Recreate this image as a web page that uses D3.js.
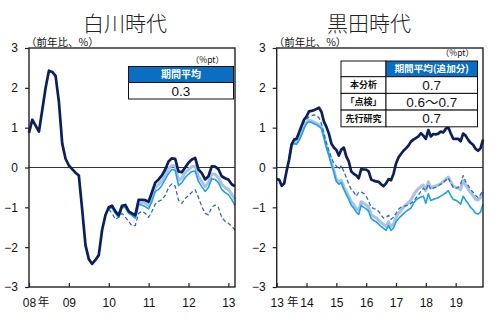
<!DOCTYPE html>
<html>
<head>
<meta charset="utf-8">
<script src="https://cdn.jsdelivr.net/npm/d3@7"></script>
<style>
  html, body { margin: 0; padding: 0; background: #fff; }
  svg { display: block; }
  text { font-family: "Liberation Sans", Arial, "Noto Sans CJK JP", sans-serif; }
  .jp { font-family: "Noto Sans CJK JP", "Noto Sans CJK SC", sans-serif; }
</style>
</head>
<body>
<svg id="chart" width="500" height="335"></svg>
<script>
// ---- data (monthly, year-on-year %) ----
const shirakawaYears = ["08", "09", "10", "11", "12", "13"];
const kurodaYears = ["13", "14", "15", "16", "17", "18", "19"];
const yTicks = [-3, -2, -1, 0, 1, 2, 3];

// Jan 2008 – Mar 2013
const shirakawaMain = [
  0.87, 1.2, 1.05, 0.9, 1.45, 2.0, 2.43, 2.4, 2.3, 1.65, 0.6, 0.22,
  0.05, -0.04, -0.13, -0.2, -1.05, -1.95, -2.3, -2.42, -2.32, -2.2, -1.57, -1.2,
  -1.0, -0.96, -1.1, -1.2, -0.96, -0.94, -1.1, -1.15, -1.2, -0.81, -0.81, -0.82,
  -0.86, -0.62, -0.38, -0.3, -0.2, -0.05, 0.15, 0.23, 0.22, -0.1, -0.12, 0.0,
  0.12, 0.2, 0.24, -0.05, -0.14, -0.3, -0.22, 0.03, 0.02, -0.04, -0.22, -0.27,
  -0.3, -0.42, -0.47
];
const shirakawaStart = 24; // adjusted series begin Jan 2010
const shirakawaLight = [
  -1.02, -0.98, -1.12, -1.2, -0.97, -0.97, -1.12, -1.17, -1.24, -0.86, -0.88, -0.9,
  -0.95, -0.75, -0.5, -0.43, -0.33, -0.18, -0.03, 0.05, 0.04, -0.32, -0.26, -0.13,
  -0.05, 0.02, 0.03, -0.22, -0.35, -0.48, -0.38, -0.16, -0.17, -0.25, -0.42, -0.5,
  -0.55, -0.67, -0.8
];
const shirakawaCyan = [
  -1.05, -1.0, -1.15, -1.25, -1.0, -1.0, -1.15, -1.2, -1.27, -0.92, -0.95, -0.98,
  -1.04, -0.85, -0.6, -0.55, -0.45, -0.3, -0.15, -0.05, -0.07, -0.45, -0.38, -0.25,
  -0.17, -0.1, -0.09, -0.35, -0.48, -0.6, -0.5, -0.28, -0.3, -0.38, -0.55, -0.63,
  -0.68, -0.8, -0.96
];
const shirakawaDashed = [
  -1.05, -1.15, -1.3, -1.25, -1.15, -1.25, -1.35, -1.47, -1.45, -1.15, -1.1, -1.15,
  -1.25, -1.1, -0.92, -0.85, -0.81, -0.7, -0.5, -0.41, -0.47, -0.82, -0.9, -0.78,
  -0.7, -0.62, -0.56, -0.75, -0.98, -1.15, -1.19, -1.0, -0.94, -1.0, -1.25, -1.35,
  -1.4, -1.47, -1.57
];

// Jan 2013 – Dec 2019
const kurodaMain = [
  -0.29, -0.31, -0.46, -0.4, -0.08, 0.2, 0.58, 0.7, 0.72, 0.88, 1.05, 1.2,
  1.28, 1.41, 1.42, 1.44, 1.47, 1.5, 1.4, 1.15, 1.02, 0.85, 0.6, 0.5,
  0.44, 0.3, 0.45, 0.5, 0.28, 0.15, -0.1, -0.16, -0.2, -0.27, -0.04, -0.05,
  -0.05, -0.1, -0.3, -0.33, -0.35, -0.36, -0.42, -0.47, -0.4, -0.29, -0.32, -0.16,
  0.1, 0.25, 0.34, 0.42, 0.48, 0.55, 0.65, 0.7, 0.74, 0.78, 0.86, 0.8,
  0.72, 0.94, 0.78, 0.84, 0.83, 0.85, 0.9, 0.88, 0.97, 1.02, 0.86, 0.72,
  0.72, 0.72, 0.66, 0.85, 0.8, 0.7, 0.62, 0.57, 0.47, 0.42, 0.48, 0.7
];
const kurodaStart = 5; // adjusted series begin Jun 2013
const kurodaLight = [
  0.2, 0.57, 0.63, 0.62, 0.72, 0.86, 1.02,
  1.14, 1.19, 1.17, 1.14, 1.11, 1.07, 1.02, 0.8, 0.55, 0.35, 0.13, -0.07,
  -0.3, -0.36, -0.32, -0.48, -0.61, -0.72, -0.86, -0.93, -1.03, -1.08, -0.86, -0.9,
  -0.94, -1.0, -1.18, -1.23, -1.26, -1.32, -1.38, -1.43, -1.48, -1.36, -1.48, -1.42,
  -1.25, -1.15, -1.08, -1.0, -0.94, -0.88, -0.82, -0.7, -0.6, -0.53, -0.48, -0.44,
  -0.58, -0.36, -0.52, -0.48, -0.46, -0.44, -0.4, -0.36, -0.3, -0.24, -0.36, -0.47,
  -0.5, -0.52, -0.56, -0.32, -0.44, -0.54, -0.63, -0.7, -0.8, -0.82, -0.76, -0.62
];
const kurodaCyan = [
  0.2, 0.55, 0.6, 0.58, 0.68, 0.82, 0.98,
  1.1, 1.15, 1.13, 1.1, 1.07, 1.03, 0.98, 0.75, 0.5, 0.3, 0.08, -0.12,
  -0.35, -0.42, -0.38, -0.55, -0.68, -0.8, -0.95, -1.02, -1.12, -1.18, -0.95, -1.0,
  -1.04, -1.1, -1.28, -1.33, -1.36, -1.42, -1.48, -1.53, -1.58, -1.46, -1.58, -1.52,
  -1.36, -1.28, -1.22, -1.16, -1.1, -1.06, -1.02, -0.9, -0.82, -0.77, -0.74, -0.72,
  -0.9, -0.66, -0.83, -0.8, -0.78, -0.76, -0.72, -0.68, -0.64, -0.58, -0.7, -0.8,
  -0.82, -0.86, -0.92, -0.72, -0.82, -0.9, -1.0, -1.06, -1.15, -1.17, -1.12, -0.92
];
const kurodaDashed = [
  0.2, 0.6, 0.68, 0.7, 0.85, 1.0, 1.15,
  1.22, 1.27, 1.3, 1.32, 1.3, 1.25, 1.1, 0.85, 0.62, 0.42, 0.25, 0.1,
  0.04, -0.05, 0.05, -0.1, -0.25, -0.42, -0.55, -0.62, -0.72, -0.62, -0.62, -0.65,
  -0.72, -0.85, -1.0, -1.03, -1.05, -1.1, -1.19, -1.27, -1.25, -1.2, -1.3, -1.25,
  -1.15, -1.05, -1.0, -0.98, -0.96, -0.94, -0.9, -0.85, -0.77, -0.69, -0.6, -0.52,
  -0.58, -0.42, -0.55, -0.52, -0.5, -0.46, -0.42, -0.38, -0.32, -0.26, -0.38, -0.5,
  -0.52, -0.5, -0.42, -0.2, -0.35, -0.45, -0.55, -0.62, -0.7, -0.76, -0.68, -0.55
];

// summary tables
const shirakawaAvg = ["0.3"];
const kurodaRows = ["本分析", "「点検」", "先行研究"];
const kurodaAvg = ["0.7", "0.6～0.7", "0.7"];

// ---- styles ----
const C = {
  main: "#0c1f5b",
  light: "#a9c2e6",
  cyan: "#1ba3e6",
  dashed: "#2c6dbd",
  axis: "#222",
  header: "#0a6fc2"
};

const svg = d3.select("#chart");
const yTop = 48, yBottom = 287;

function padSeries(values, start) {
  return Array(start).fill(null).concat(values);
}

function drawPanel(p) {
  const g = svg.append("g");
  const x = d3.scaleLinear().domain([0, p.months - 1]).range([p.x0, p.x1]);
  const y = d3.scaleLinear().domain([-3, 3]).range([yBottom, yTop]);

  // title
  g.append("text").attr("class", "jp")
    .attr("x", p.titleX).attr("y", 31)
    .attr("text-anchor", "middle")
    .attr("font-size", 21).attr("font-weight", 300).attr("fill", "#222")
    .text(p.title);

  // unit label
  g.append("text").attr("class", "jp")
    .attr("x", p.x0 - 3).attr("y", 46)
    .attr("font-size", 10.5).attr("fill", "#111")
    .text("（前年比、%）");

  // zero line
  g.append("line")
    .attr("x1", p.x0).attr("x2", p.x1)
    .attr("y1", y(0)).attr("y2", y(0))
    .attr("stroke", "#333").attr("stroke-width", 1);

  // series
  const line = d3.line()
    .defined(d => d != null)
    .x((d, i) => x(i))
    .y(d => y(d));

  const series = [
    { data: padSeries(p.light, p.start), color: C.light, w: 3, dash: null },
    { data: padSeries(p.cyan, p.start), color: C.cyan, w: 1.6, dash: null },
    { data: padSeries(p.dashed, p.start), color: C.dashed, w: 1.3, dash: "4,2.5" },
    { data: p.main, color: C.main, w: 2.7, dash: null }
  ];
  series.forEach(s => {
    g.append("path")
      .datum(s.data)
      .attr("fill", "none")
      .attr("stroke", s.color)
      .attr("stroke-width", s.w)
      .attr("stroke-linejoin", "round")
      .attr("stroke-dasharray", s.dash)
      .attr("d", line);
  });

  // frame
  g.append("rect")
    .attr("x", p.x0).attr("y", yTop)
    .attr("width", p.x1 - p.x0).attr("height", yBottom - yTop)
    .attr("fill", "none").attr("stroke", C.axis).attr("stroke-width", 1.4);

  // y axis
  const yAxis = d3.axisLeft(y).tickValues(yTicks).tickSize(4).tickPadding(7)
    .tickFormat(d3.format("d"));
  const ya = g.append("g").attr("transform", `translate(${p.x0},0)`).call(yAxis);
  ya.select(".domain").remove();
  ya.selectAll("line").attr("stroke", C.axis).attr("stroke-width", 1.2);
  ya.selectAll("text").attr("font-size", 12).attr("fill", "#111")
    .style("font-family", "'Liberation Sans', Arial, sans-serif");

  // x axis: inward year ticks
  const yearIdx = p.years.map((_, i) => i * 12);
  const xAxis = d3.axisBottom(x).tickValues(yearIdx).tickSize(-4).tickPadding(11)
    .tickFormat((d, i) => p.years[i]);
  const xa = g.append("g").attr("transform", `translate(0,${yBottom})`).call(xAxis);
  xa.select(".domain").remove();
  xa.selectAll("line").attr("stroke", C.axis).attr("stroke-width", 1.2);
  xa.selectAll("text").attr("font-size", 12).attr("fill", "#111")
    .style("font-family", "'Liberation Sans', Arial, sans-serif");

  // 年 marker after the first year label
  g.append("text").attr("class", "jp")
    .attr("x", x(0) + p.nenOffset).attr("y", yBottom + 19)
    .attr("text-anchor", "middle")
    .attr("font-size", 11.5).attr("fill", "#111")
    .text("年");

  return g;
}

// ---- left panel ----
const left = drawPanel({
  title: "白川時代", titleX: 125,
  x0: 29, x1: 235, months: shirakawaMain.length,
  years: shirakawaYears, nenOffset: 14.5,
  main: shirakawaMain, start: shirakawaStart,
  light: shirakawaLight, cyan: shirakawaCyan, dashed: shirakawaDashed
});

// ---- right panel ----
const right = drawPanel({
  title: "黒田時代", titleX: 369,
  x0: 276.7, x1: 483, months: kurodaMain.length,
  years: kurodaYears, nenOffset: 16,
  main: kurodaMain, start: kurodaStart,
  light: kurodaLight, cyan: kurodaCyan, dashed: kurodaDashed
});

// ---- tables ----
function unitNote(g, xRight, yPos) {
  g.append("text").attr("class", "jp")
    .attr("x", xRight).attr("y", yPos)
    .attr("text-anchor", "end")
    .attr("font-size", 8.5).attr("fill", "#111")
    .text("（%pt）");
}

// left table
(function () {
  const g = svg.append("g");
  const tx = 128.5, tw = 105, hh = 16, rh = 16.5, ty = 66.5;
  unitNote(g, 224, 63);
  g.append("rect").attr("x", tx).attr("y", ty).attr("width", tw).attr("height", hh)
    .attr("fill", C.header).attr("stroke", "#111").attr("stroke-width", 1);
  g.append("text").attr("class", "jp")
    .attr("x", tx + tw / 2).attr("y", ty + hh / 2 + 3.7)
    .attr("text-anchor", "middle").attr("font-size", 10).attr("font-weight", "bold")
    .attr("fill", "#fff").text("期間平均");
  g.append("rect").attr("x", tx).attr("y", ty + hh).attr("width", tw).attr("height", rh)
    .attr("fill", "#fff").attr("stroke", "#111").attr("stroke-width", 1);
  g.append("text")
    .attr("x", tx + tw / 2).attr("y", ty + hh + rh / 2 + 4.8)
    .attr("text-anchor", "middle").attr("font-size", 13.5).attr("fill", "#111")
    .text(shirakawaAvg[0]);
})();

// right table
(function () {
  const g = svg.append("g");
  const tx = 341, c1 = 45, c2 = 91.5, hh = 15.7, rh = 16.7, ty = 61;
  unitNote(g, 474, 56);
  g.append("rect").attr("x", tx).attr("y", ty).attr("width", c1).attr("height", hh)
    .attr("fill", "#fff").attr("stroke", "#111").attr("stroke-width", 1);
  g.append("rect").attr("x", tx + c1).attr("y", ty).attr("width", c2).attr("height", hh)
    .attr("fill", C.header).attr("stroke", "#111").attr("stroke-width", 1);
  g.append("text").attr("class", "jp")
    .attr("x", tx + c1 + c2 / 2).attr("y", ty + hh / 2 + 3.5)
    .attr("text-anchor", "middle").attr("font-size", 9.6).attr("font-weight", "bold")
    .attr("fill", "#fff").text("期間平均(追加分)");
  kurodaRows.forEach((name, i) => {
    const ry = ty + hh + i * rh;
    g.append("rect").attr("x", tx).attr("y", ry).attr("width", c1).attr("height", rh)
      .attr("fill", "#fff").attr("stroke", "#111").attr("stroke-width", 1);
    g.append("rect").attr("x", tx + c1).attr("y", ry).attr("width", c2).attr("height", rh)
      .attr("fill", "#fff").attr("stroke", "#111").attr("stroke-width", 1);
    g.append("text").attr("class", "jp")
      .attr("x", tx + c1 / 2).attr("y", ry + rh / 2 + 3.3)
      .attr("text-anchor", "middle").attr("font-size", 9).attr("font-weight", "bold")
      .attr("fill", "#111").text(name);
    g.append("text")
      .attr("x", tx + c1 + c2 / 2).attr("y", ry + rh / 2 + 4.8)
      .attr("text-anchor", "middle").attr("font-size", 13.5).attr("fill", "#111")
      .style("font-family", "'Liberation Sans', Arial, 'Noto Sans CJK JP', sans-serif")
      .text(kurodaAvg[i]);
  });
})();
</script>
</body>
</html>
